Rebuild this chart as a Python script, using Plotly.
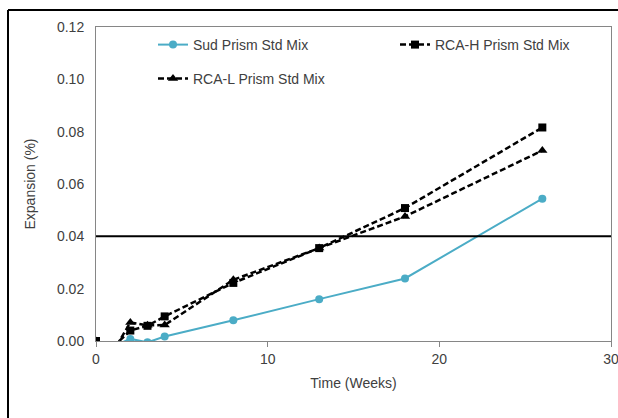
import plotly.graph_objects as go

weeks = [0, 1, 2, 3, 4, 8, 13, 18, 26]
sud = [0.0, -0.002, 0.0008, -0.0005, 0.0017, 0.0079, 0.0160, 0.0239, 0.0544]
rca_h = [0.0, -0.0022, 0.0040, 0.0058, 0.0094, 0.0222, 0.0355, 0.0508, 0.0816]
rca_l = [0.0, -0.0040, 0.0071, 0.0060, 0.0061, 0.0234, 0.0355, 0.0476, 0.0728]
limit = 0.04

x_ticks = [0, 10, 20, 30]
y_ticks = [0.0, 0.02, 0.04, 0.06, 0.08, 0.10, 0.12]

FONT = "Liberation Sans"
FS = 14
TXT = "#404040"
W, H = 618, 418
L, R, T, B = 96, 7, 27, 77

fig = go.Figure()
fig.add_trace(go.Scatter(x=weeks, y=sud, name="Sud Prism Std Mix", mode="lines+markers",
                         line=dict(color="#4BACC6", width=2),
                         marker=dict(symbol="circle", size=8, color="#4BACC6"),
                         legend="legend"))
fig.add_trace(go.Scatter(x=weeks, y=rca_h, name="RCA-H Prism Std Mix", mode="lines+markers",
                         line=dict(color="black", width=2.5, dash="6px,3px"),
                         marker=dict(symbol="square", size=8, color="black"),
                         legend="legend3"))
fig.add_trace(go.Scatter(x=weeks, y=rca_l, name="RCA-L Prism Std Mix", mode="lines+markers",
                         line=dict(color="black", width=2.5, dash="6px,3px"),
                         marker=dict(symbol="triangle-up", size=9, color="black"),
                         legend="legend2"))

fig.add_shape(type="line", xref="paper", yref="y", x0=0, x1=1, y0=limit, y1=limit,
              line=dict(color="black", width=2))

def px_x(p):
    return (p - L) / (W - L - R)

def px_y(p):
    return (H - B - p) / (H - T - B)

# outer chart frame (partially visible)
fig.add_shape(type="line", xref="paper", yref="paper", x0=px_x(8), x1=px_x(630),
              y0=px_y(10), y1=px_y(10), line=dict(color="black", width=2))
fig.add_shape(type="line", xref="paper", yref="paper", x0=px_x(8), x1=px_x(8),
              y0=px_y(10), y1=px_y(430), line=dict(color="black", width=2))

leg_common = dict(orientation="v", xanchor="left", yanchor="top", bgcolor="rgba(0,0,0,0)",
                  font=dict(family=FONT, size=FS, color=TXT))

fig.update_layout(
    width=W, height=H,
    margin=dict(l=L, r=R, t=T, b=B, autoexpand=False),
    paper_bgcolor="white", plot_bgcolor="white",
    font=dict(family=FONT, size=FS, color=TXT),
    showlegend=True,
    legend=dict(x=px_x(153), y=px_y(29), **leg_common),
    legend3=dict(x=px_x(395), y=px_y(29), **leg_common),
    legend2=dict(x=px_x(153), y=px_y(63), **leg_common),
    xaxis=dict(range=[0, 30], tickvals=x_ticks, ticks="outside", ticklen=5, tickcolor="#868686",
               showline=True, linecolor="#868686", linewidth=1, mirror=True, showgrid=False,
               zeroline=False, ticklabeloverflow="allow", automargin=False,
               title=dict(text="Time (Weeks)", standoff=12, font=dict(size=FS, color=TXT))),
    yaxis=dict(range=[0, 0.12], tickvals=y_ticks, tickformat=".2f", ticks="",
               showline=True, linecolor="#868686", linewidth=1, mirror=True, showgrid=False,
               zeroline=False, ticklabelstandoff=8, automargin=False,
               title=dict(text="Expansion (%)", standoff=18, font=dict(size=FS, color=TXT))),
)

fig.write_html("out.html")
